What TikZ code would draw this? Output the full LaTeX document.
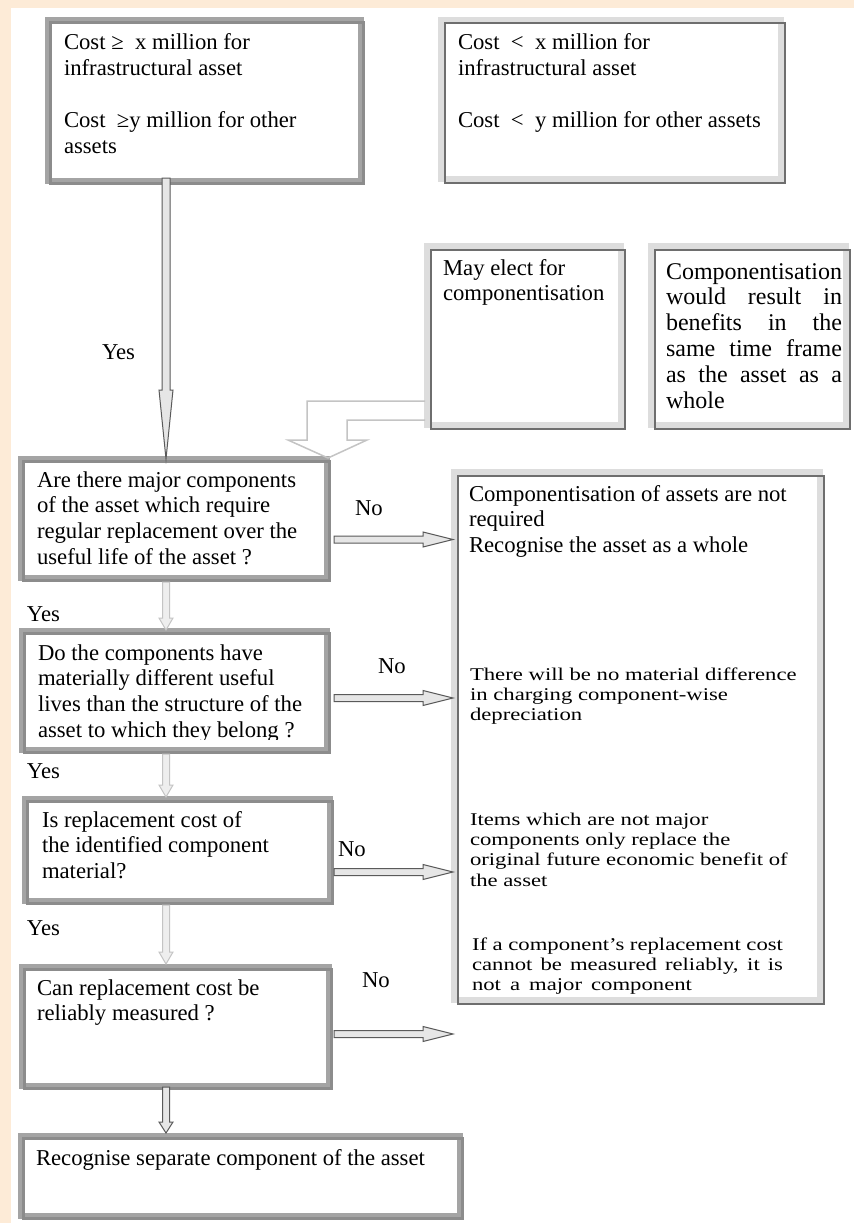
\documentclass[tikz,border=0pt]{standalone}
\usepackage{fontspec}
\setmainfont{Liberation Serif}
\usepackage{graphicx}
\usetikzlibrary{calc,fit}
\definecolor{peach}{HTML}{FDEBD7}
\definecolor{frA}{HTML}{A4A4A4}
\definecolor{frAd}{HTML}{8C8C8C}
\definecolor{frB}{HTML}{DDDDDD}
\definecolor{frBd}{HTML}{6E6E6E}
\definecolor{arrD}{HTML}{5A5A5A}
\definecolor{arrDf}{HTML}{E6E6E6}
\definecolor{arrL}{HTML}{C4C4C4}
\definecolor{arrLf}{HTML}{EEEEEE}
% vertical hollow arrow: style, start, tip, shaft half, head half, head length
\newcommand\varrowd[6]{\draw[#1] let \p1=#2, \p2=#3 in
  (\x2-#4,\y1) -- (\x2-#4,\y2+#6) -- (\x2-#5,\y2+#6) -- (\x2,\y2) --
  (\x2+#5,\y2+#6) -- (\x2+#4,\y2+#6) -- (\x2+#4,\y1) -- cycle;}
% horizontal hollow arrow: style, start, tip, shaft half, head half, head length
\newcommand\harrowd[6]{\draw[#1] let \p1=#2, \p2=#3 in
  (\x1,\y1+#4) -- (\x2-#6,\y1+#4) -- (\x2-#6,\y1+#5) -- (\x2,\y1) --
  (\x2-#6,\y1-#5) -- (\x2-#6,\y1-#4) -- (\x1,\y1-#4) -- cycle;}
\tikzset{
  boxA/.style={draw=frA, line width=6pt, inner sep=0pt, outer sep=0pt},
  boxB/.style={draw=frB, line width=6pt, inner sep=0pt, outer sep=0pt},
  shadeA/.style={draw=frAd, line width=2.5pt},
  shadeB/.style={draw=frBd, line width=2pt},
  txt/.style={anchor=base west, inner sep=0pt, outer sep=0pt,
    font=\fontsize{22.7pt}{25.9pt}\selectfont},
  bigtxt/.style={anchor=base west, inner sep=0pt, outer sep=0pt,
    font=\fontsize{24pt}{25.9pt}\selectfont},
  darrow/.style={draw=arrD, fill=arrDf, line width=1pt},
  larrow/.style={draw=arrL, fill=arrLf, line width=1pt},
  bentarrow/.style={draw=arrL, line width=1.5pt},
}
\begin{document}
\begin{tikzpicture}[x=1pt,y=-1pt]
\useasboundingbox (0,0) rectangle (854,1223);
\fill[peach] (0,0) rectangle (854,1223);
\fill[white] (11,8) rectangle (854,1223);
\coordinate (spine) at (166,0);

% ---- texts ----
\node[txt] (b1t) at (64,50) {\parbox[t]{300pt}{Cost ≥\ \ x million for\\infrastructural asset\\\mbox{}\\Cost\ \ ≥y million for other\\assets}};
\node[txt] (b2t) at (458,50) {\parbox[t]{330pt}{Cost\ \ <\ \ x million for\\infrastructural asset\\\mbox{}\\Cost\ \ <\ \ y million for other assets}};
\node[txt] (mayt) at (443,275) {\parbox[t]{180pt}{May elect for\\componentisation}};
\node[bigtxt] (cwt) at (666,279) {\parbox[t]{180pt}{Componentisation\\
  \makebox[176pt][s]{would result in}\\
  \makebox[176pt][s]{benefits in the}\\
  \makebox[176pt][s]{same time frame}\\
  \makebox[176pt][s]{as the asset as a}\\whole}};
\node[txt] (q1t) at (37,487) {\parbox[t]{290pt}{Are there major components\\of the asset which require\\regular replacement over the\\useful life of the asset ?}};
\begin{scope}
  \clip (0,0) rectangle (854,739);
  \node[txt] (q2t) at (38,660) {\parbox[t]{290pt}{Do the components have\\materially different useful\\lives than the structure of the\\asset to which they belong ?}};
\end{scope}
\node[txt] (q3t) at (42,827) {\parbox[t]{290pt}{Is replacement cost of\\the identified component\\material?}};
\node[txt] (q4t) at (37,995) {\parbox[t]{290pt}{Can replacement cost be\\reliably measured ?}};
\node[txt] (rect) at (36,1165) {Recognise separate component of the asset};
\node[txt] (rb1t) at (469,501) {\parbox[t]{345pt}{Componentisation of assets are not\\required\\Recognise the asset as a whole}};
\node[txt] (rb2t) at (470,680) {\scalebox{1}[0.79]{\parbox[t]{345pt}{There will be no material difference\\in charging component-wise\\depreciation}}};
\node[txt] (rb3t) at (470,825) {\scalebox{1}[0.79]{\parbox[t]{345pt}{Items which are not major\\components only replace the\\original future economic benefit of\\the asset}}};
\node[txt] (rb4t) at (472,950) {\scalebox{1}[0.79]{\parbox[t]{345pt}{\makebox[311pt][s]{If a component’s replacement cost}\\\makebox[311pt][s]{cannot be measured reliably, it is}\\\makebox[220pt][s]{not a major component}}}};

% ---- labels ----
\node[txt] (y0) at (102,359) {Yes};
\node[txt] (y1) at (27,621) {Yes};
\node[txt] (y2) at (27,778) {Yes};
\node[txt] (y3) at (27,935) {Yes};
\node[txt] (n1) at (355,515) {No};
\node[txt] (n2) at (378,673) {No};
\node[txt] (n3) at (338,856) {No};
\node[txt] (n4) at (362,987) {No};

% ---- boxes ----
\node[boxA, fit={(48,20) (361,181)}] (b1) {};
\node[boxB, fit={(441,20) (781,179)}] (b2) {};
\node[boxB, fit={(427,246) (621,425)}] (may) {};
\node[boxB, fit={(651,246) (846,425)}] (cw) {};
\node[boxB, fit={(454,472) (820,1000)}] (rb) {};
\node[boxA, fit={(21,459) (327,578)}] (q1) {};
\node[boxA, fit={(22,631) (327,750)}] (q2) {};
\node[boxA, fit={(25,799) (330,901)}] (q3) {};
\node[boxA, fit={(22,967) (329,1086)}] (q4) {};
\node[boxA, fit={(21,1136) (460,1216)}] (rec) {};
\foreach \n in {b1,q1,q2,q3,q4,rec}
  \draw[shadeA] ([shift={(2.5pt,-2.5pt)}]\n.south west) rectangle ([shift={(2.5pt,-2.5pt)}]\n.north east);
\foreach \n in {b2,may,cw,rb}
  \draw[shadeB] ([shift={(3.5pt,-3.5pt)}]\n.south west) rectangle ([shift={(3.5pt,-3.5pt)}]\n.north east);

% ---- arrows ----
\varrowd{darrow}{($(b1.south -| spine)+(0,-3)$)}{(q1.north -| spine)}{4pt}{7pt}{69pt}
\varrowd{larrow}{($(q1.south -| spine)+(0,4)$)}{($(q2.north -| spine)+(0,-1)$)}{3.5pt}{7pt}{12pt}
\varrowd{larrow}{($(q2.south -| spine)+(0,4)$)}{($(q3.north -| spine)+(0,-2)$)}{3.5pt}{7pt}{12pt}
\varrowd{larrow}{($(q3.south -| spine)+(0,4)$)}{($(q4.north -| spine)+(0,-3)$)}{3.5pt}{7pt}{12pt}
\varrowd{darrow}{($(q4.south -| spine)+(0,1)$)}{($(rec.north -| spine)+(0,-3)$)}{3.5pt}{7pt}{11pt}

\harrowd{darrow}{($(q1.east)+(7,21)$)}{($(rb.west)+(-1,0)$)}{3.5pt}{7.5pt}{30pt}
\harrowd{darrow}{($(q2.east)+(7,7.5)$)}{($(rb.west)+(-1,0)$)}{3.5pt}{7.5pt}{30pt}
\harrowd{darrow}{($(q3.east)+(4,22)$)}{($(rb.west)+(-1,0)$)}{3.5pt}{7.5pt}{30pt}
\harrowd{darrow}{($(q4.east)+(5,7.5)$)}{($(rb.west)+(-1,0)$)}{3.5pt}{7.5pt}{30pt}

% bent open arrow from "May elect" box into the first question
\draw[bentarrow] let \p1=(may.west), \p2=($(q1.north east)+(1,-1)$) in
  (\x1-2pt,\y2+57pt) -- (\x2-21pt,\y2+57pt) -- (\x2-21pt,\y2+18pt) -- (\x2-40pt,\y2+18pt)
  -- (\x2,\y2) -- (\x2+39pt,\y2+18pt) -- (\x2+19pt,\y2+18pt) -- (\x2+19pt,\y2+38pt)
  -- (\x1-2pt,\y2+38pt);
\end{tikzpicture}
\end{document}
